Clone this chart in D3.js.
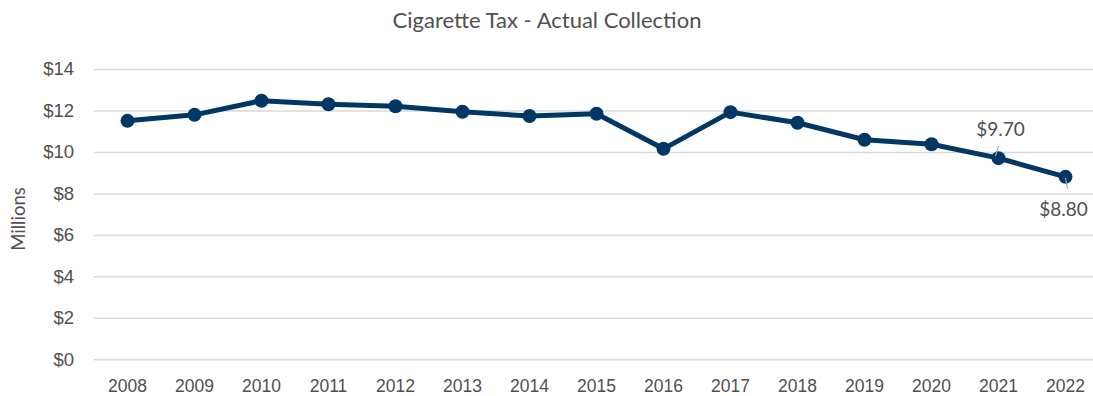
<!DOCTYPE html>
<html>
<head>
<meta charset="utf-8">
<script src="https://cdn.jsdelivr.net/npm/d3@7"></script>
<style>
  html, body { margin: 0; padding: 0; background: #fff; }
  svg { display: block; font-family: Lato, "Open Sans", sans-serif; }
</style>
</head>
<body>
<svg id="chart" width="1093" height="396"></svg>
<script>
// Cigarette tax collections by year, in millions of dollars
const years = ["2008","2009","2010","2011","2012","2013","2014","2015","2016","2017","2018","2019","2020","2021","2022"];
const collections = [11.50, 11.79, 12.47, 12.30, 12.20, 11.94, 11.73, 11.84, 10.15, 11.92, 11.41, 10.59, 10.37, 9.70, 8.80];
const yTicks = [0, 2, 4, 6, 8, 10, 12, 14];
const labelledYears = ["2021", "2022"];

const svg = d3.select("#chart");
const margin = { left: 94, right: 1099, top: 69, bottom: 359.3 };

const x = d3.scaleBand().domain(years).range([margin.left, margin.right]).padding(0);
const y = d3.scaleLinear().domain([0, 14]).range([margin.bottom, margin.top]);

const textColor = "#505050";
const lineColor = "#003764";

// Title
svg.append("text")
  .attr("x", 547).attr("y", 28)
  .attr("text-anchor", "middle")
  .attr("fill", textColor)
  .style("font-size", "22px")
  .text("Cigarette Tax - Actual Collection");

// Horizontal gridlines and dollar tick labels
const yAxis = d3.axisLeft(y)
  .tickValues(yTicks)
  .tickSize(-(1093 - margin.left))
  .tickPadding(20)
  .tickFormat(d => "$" + d);
const gy = svg.append("g").attr("transform", `translate(${margin.left},0)`).call(yAxis);
gy.select(".domain").remove();
gy.selectAll(".tick line").attr("stroke", "#d9d9d9").attr("stroke-width", 1.5);
gy.selectAll(".tick text").attr("fill", textColor).style("font-size", "18.5px");

// Year labels
const xAxis = d3.axisBottom(x).tickSize(0).tickPadding(20);
const gx = svg.append("g").attr("transform", `translate(0,${margin.bottom})`).call(xAxis);
gx.select(".domain").remove();
gx.selectAll(".tick text").attr("fill", textColor).style("font-size", "17.5px");

// Axis title
svg.append("text")
  .attr("transform", "translate(25,219) rotate(-90)")
  .attr("text-anchor", "middle")
  .attr("fill", textColor)
  .style("font-size", "18.5px")
  .text("Millions");

const data = years.map((yr, i) => ({ year: yr, value: collections[i] }));
const cx = d => x(d.year) + x.bandwidth() / 2;

// Trend line
svg.append("path")
  .datum(data)
  .attr("fill", "none")
  .attr("stroke", lineColor)
  .attr("stroke-width", 5)
  .attr("stroke-linejoin", "round")
  .attr("d", d3.line().x(cx).y(d => y(d.value)));

// Markers
svg.append("g").selectAll("circle")
  .data(data)
  .join("circle")
  .attr("cx", cx)
  .attr("cy", d => y(d.value))
  .attr("r", 7)
  .attr("fill", lineColor);

// Value callouts for the latest years
const fmt = d3.format("$.2f");
const callouts = data.filter(d => labelledYears.includes(d.year));
callouts.forEach((d, i) => {
  const px = cx(d), py = y(d.value);
  const above = i === 0;
  const g = svg.append("g");
  if (above) {
    g.append("line")
      .attr("x1", px - 3).attr("y1", py - 2)
      .attr("x2", px).attr("y2", py - 12)
      .attr("stroke", "#a6a6a6").attr("stroke-width", 1.2);
    g.append("text")
      .attr("x", px + 2).attr("y", py - 22)
      .attr("text-anchor", "middle")
      .attr("fill", textColor)
      .style("font-size", "19px")
      .text(fmt(d.value));
  } else {
    g.append("line")
      .attr("x1", px).attr("y1", py + 1)
      .attr("x2", px + 2).attr("y2", py + 12)
      .attr("stroke", "#a6a6a6").attr("stroke-width", 1.2);
    g.append("text")
      .attr("x", px - 2).attr("y", py + 39)
      .attr("text-anchor", "middle")
      .attr("fill", textColor)
      .style("font-size", "19px")
      .text(fmt(d.value));
  }
});
</script>
</body>
</html>
